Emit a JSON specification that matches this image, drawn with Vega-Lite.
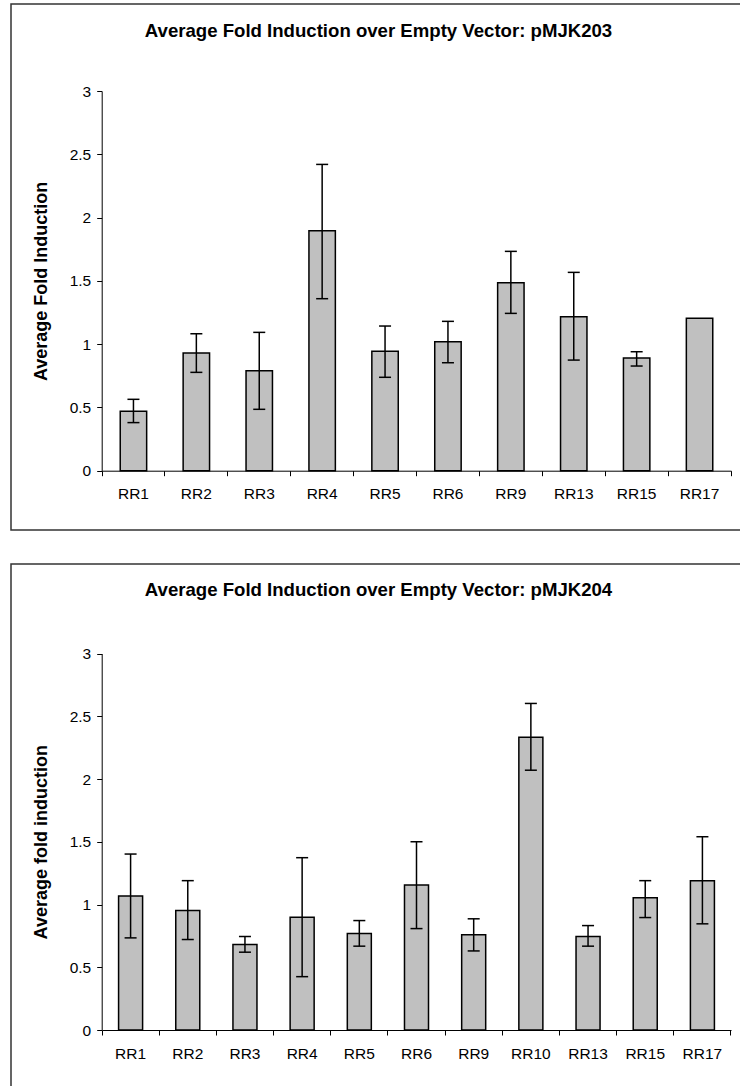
{
  "$schema": "https://vega.github.io/schema/vega-lite/v6.json",
  "background": "white",
  "padding": {"left": 10, "top": 3, "right": 0, "bottom": 0},
  "autosize": {"type": "pad"},
  "bounds": "flush",
  "spacing": 34,
  "datasets": {
    "p203": [
      {"construct": "RR1", "mean": 0.47, "lo": 0.38, "hi": 0.564},
      {"construct": "RR2", "mean": 0.93, "lo": 0.777, "hi": 1.082},
      {"construct": "RR3", "mean": 0.79, "lo": 0.485, "hi": 1.093},
      {"construct": "RR4", "mean": 1.896, "lo": 1.359, "hi": 2.42},
      {"construct": "RR5", "mean": 0.943, "lo": 0.738, "hi": 1.143},
      {"construct": "RR6", "mean": 1.019, "lo": 0.853, "hi": 1.18},
      {"construct": "RR9", "mean": 1.485, "lo": 1.243, "hi": 1.733},
      {"construct": "RR13", "mean": 1.216, "lo": 0.874, "hi": 1.567},
      {"construct": "RR15", "mean": 0.89, "lo": 0.827, "hi": 0.94},
      {"construct": "RR17", "mean": 1.204, "lo": null, "hi": null}
    ],
    "p204": [
      {"construct": "RR1", "mean": 1.067, "lo": 0.734, "hi": 1.402},
      {"construct": "RR2", "mean": 0.952, "lo": 0.721, "hi": 1.19},
      {"construct": "RR3", "mean": 0.681, "lo": 0.62, "hi": 0.745},
      {"construct": "RR4", "mean": 0.899, "lo": 0.425, "hi": 1.373},
      {"construct": "RR5", "mean": 0.769, "lo": 0.668, "hi": 0.872},
      {"construct": "RR6", "mean": 1.155, "lo": 0.808, "hi": 1.5},
      {"construct": "RR9", "mean": 0.758, "lo": 0.63, "hi": 0.886},
      {"construct": "RR10", "mean": 2.333, "lo": 2.07, "hi": 2.602},
      {"construct": "RR13", "mean": 0.745, "lo": 0.668, "hi": 0.832},
      {"construct": "RR15", "mean": 1.053, "lo": 0.896, "hi": 1.19},
      {"construct": "RR17", "mean": 1.19, "lo": 0.846, "hi": 1.54}
    ]
  },
  "config": {
    "font": "Liberation Sans",
    "view": {"stroke": "#333333", "strokeWidth": 1.5},
    "axis": {
      "labelFont": "Liberation Sans",
      "labelFontSize": 15.5,
      "labelColor": "black",
      "titleFont": "Liberation Sans",
      "titleFontSize": 18,
      "titleFontWeight": "bold",
      "titleColor": "black",
      "domainColor": "black",
      "domainWidth": 1,
      "tickColor": "black",
      "tickWidth": 1,
      "tickSize": 5,
      "grid": false
    },
    "title": {
      "font": "Liberation Sans",
      "fontSize": 18.6,
      "fontWeight": "bold",
      "color": "black"
    }
  },
  "vconcat": [
    {
      "width": 735,
      "height": 526,
      "title": {"text": "Average Fold Induction over Empty Vector: pMJK203", "anchor": "middle", "frame": "group", "baseline": "alphabetic", "offset": -52},
      "data": {"name": "p203"},
      "resolve": {"axis": {"x": "independent"}},
      "layer": [
        {
          "mark": {"type": "bar", "fill": "#c0c0c0", "stroke": "black", "strokeWidth": 1.5, "width": {"band": 0.42}},
          "encoding": {
            "x": {
              "field": "construct", "type": "nominal", "sort": null,
              "scale": {"range": [91, 720], "paddingInner": 0, "paddingOuter": 0},
              "axis": {"orient": "bottom", "title": null, "labelAngle": 0, "labelFontSize": 15.5, "labelPadding": 11, "bandPosition": 0, "offset": -59.3}
            },
            "y": {
              "field": "mean", "type": "quantitative",
              "scale": {"domain": [0, 3], "nice": false, "range": [466.7, 87]},
              "axis": {"title": "Average Fold Induction", "values": [0, 0.5, 1, 1.5, 2, 2.5, 3], "format": "~g", "labelFontSize": 15.5, "labelPadding": 6, "titleX": -51, "offset": -90.7}
            }
          }
        },
        {
          "transform": [{"filter": "isValid(datum.lo)"}],
          "mark": {"type": "rule", "color": "black", "strokeWidth": 1.5},
          "encoding": {
            "x": {"field": "construct", "type": "nominal", "sort": null,
              "axis": {"orient": "bottom", "title": null, "values": ["RR17"], "labels": false, "domain": false, "bandPosition": 1, "offset": -59.3}},
            "y": {"field": "lo", "type": "quantitative"},
            "y2": {"field": "hi"}
          }
        },
        {
          "transform": [{"filter": "isValid(datum.lo)"}],
          "mark": {"type": "tick", "color": "black", "size": 12, "thickness": 1.5, "opacity": 1},
          "encoding": {
            "x": {"field": "construct", "type": "nominal", "sort": null, "axis": null},
            "y": {"field": "lo", "type": "quantitative"}
          }
        },
        {
          "transform": [{"filter": "isValid(datum.hi)"}],
          "mark": {"type": "tick", "color": "black", "size": 12, "thickness": 1.5, "opacity": 1},
          "encoding": {
            "x": {"field": "construct", "type": "nominal", "sort": null, "axis": null},
            "y": {"field": "hi", "type": "quantitative"}
          }
        }
      ]
    },
    {
      "width": 735,
      "height": 530,
      "title": {"text": "Average Fold Induction over Empty Vector: pMJK204", "anchor": "middle", "frame": "group", "baseline": "alphabetic", "offset": -51},
      "data": {"name": "p204"},
      "resolve": {"axis": {"x": "independent"}},
      "layer": [
        {
          "mark": {"type": "bar", "fill": "#c0c0c0", "stroke": "black", "strokeWidth": 1.5, "width": {"band": 0.42}},
          "encoding": {
            "x": {
              "field": "construct", "type": "nominal", "sort": null,
              "scale": {"range": [91, 720], "paddingInner": 0, "paddingOuter": 0},
              "axis": {"orient": "bottom", "title": null, "labelAngle": 0, "labelFontSize": 15.5, "labelPadding": 11, "bandPosition": 0, "offset": -64}
            },
            "y": {
              "field": "mean", "type": "quantitative",
              "scale": {"domain": [0, 3], "nice": false, "range": [466, 89.5]},
              "axis": {"title": "Average fold induction", "values": [0, 0.5, 1, 1.5, 2, 2.5, 3], "format": "~g", "labelFontSize": 15.5, "labelPadding": 6, "titleX": -51, "offset": -90.7}
            }
          }
        },
        {
          "mark": {"type": "rule", "color": "black", "strokeWidth": 1.5},
          "encoding": {
            "x": {"field": "construct", "type": "nominal", "sort": null,
              "axis": {"orient": "bottom", "title": null, "values": ["RR17"], "labels": false, "domain": false, "bandPosition": 1, "offset": -64}},
            "y": {"field": "lo", "type": "quantitative"},
            "y2": {"field": "hi"}
          }
        },
        {
          "mark": {"type": "tick", "color": "black", "size": 12, "thickness": 1.5, "opacity": 1},
          "encoding": {
            "x": {"field": "construct", "type": "nominal", "sort": null, "axis": null},
            "y": {"field": "lo", "type": "quantitative"}
          }
        },
        {
          "mark": {"type": "tick", "color": "black", "size": 12, "thickness": 1.5, "opacity": 1},
          "encoding": {
            "x": {"field": "construct", "type": "nominal", "sort": null, "axis": null},
            "y": {"field": "hi", "type": "quantitative"}
          }
        }
      ]
    }
  ]
}
